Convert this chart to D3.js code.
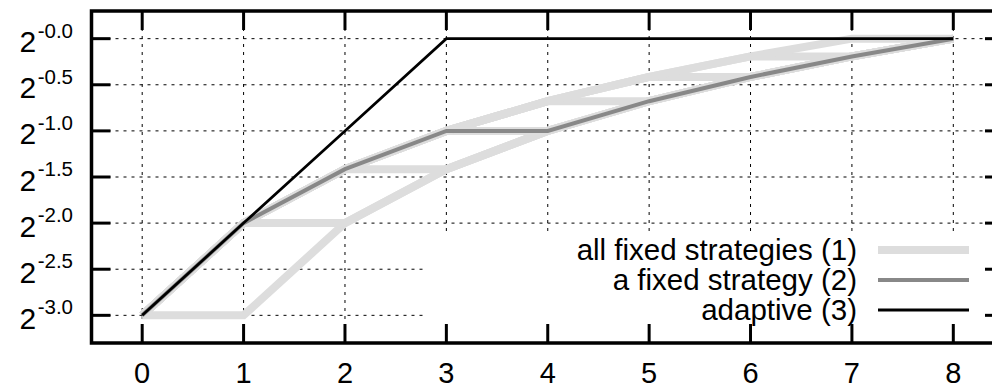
<!DOCTYPE html>
<html lang="en">
<head>
<meta charset="UTF-8">
<title>Fixed vs adaptive strategies</title>
<script src="https://d3js.org/d3.v7.min.js"></script>
<style>
    body { margin: 0; background: #fff; }
    text { font-family: "Liberation Sans", Arial, Helvetica, sans-serif; fill: #000; }
</style>
</head>
<body>
<svg id="chart"></svg>
<script>
const width = 992;
const height = 389;

// x positions
const steps = [0, 1, 2, 3, 4, 5, 6, 7, 8];

// every fixed strategy, one row each (they switch at a different step)
const allFixed = [
    [0.125, 0.125, 0.25, 0.375, 0.5, 0.625, 0.75, 0.875, 1],
    [0.125, 0.25, 0.25, 0.375, 0.5, 0.625, 0.75, 0.875, 1],
    [0.125, 0.25, 0.375, 0.375, 0.5, 0.625, 0.75, 0.875, 1],
    [0.125, 0.25, 0.375, 0.5, 0.5, 0.625, 0.75, 0.875, 1],
    [0.125, 0.25, 0.375, 0.5, 0.625, 0.625, 0.75, 0.875, 1],
    [0.125, 0.25, 0.375, 0.5, 0.625, 0.75, 0.75, 0.875, 1],
    [0.125, 0.25, 0.375, 0.5, 0.625, 0.75, 0.875, 0.875, 1],
    [0.125, 0.25, 0.375, 0.5, 0.625, 0.75, 0.875, 1, 1]
];
const oneFixed = [0.125, 0.25, 0.375, 0.5, 0.5, 0.625, 0.75, 0.875, 1];
const adaptive = [0.125, 0.25, 0.5, 1, 1, 1, 1, 1, 1];

// y ticks are powers of two
const yTickExps = [-3.0, -2.5, -2.0, -1.5, -1.0, -0.5, 0];
const yTickLabels = ["-3.0", "-2.5", "-2.0", "-1.5", "-1.0", "-0.5", "-0.0"];

const legendNames = ["all fixed strategies (1)", "a fixed strategy (2)", "adaptive (3)"];

const svg = d3.select("#chart")
    .attr("width", width)
    .attr("height", height);

const plotLeft = 91.5, plotRight = 1004, plotTop = 11, plotBottom = 343;

const x = d3.scaleLinear().domain([-0.5, 8.5]).range([plotLeft, plotRight]);
const y = d3.scaleLog().base(2).domain([Math.pow(2, -3.3), Math.pow(2, 0.3)]).range([plotBottom, plotTop]);

// grid
const grid = svg.append("g").attr("stroke", "#000").attr("stroke-width", 1).attr("stroke-dasharray", "3,5");
grid.selectAll("line.gx")
    .data(steps)
    .enter()
    .append("line")
    .attr("x1", d => x(d)).attr("x2", d => x(d))
    .attr("y1", plotBottom).attr("y2", plotTop);
grid.selectAll("line.gy")
    .data(yTickExps)
    .enter()
    .append("line")
    .attr("x1", plotLeft).attr("x2", plotRight)
    .attr("y1", d => y(Math.pow(2, d))).attr("y2", d => y(Math.pow(2, d)));

// data lines
const line = d3.line()
    .x((d, i) => x(steps[i]))
    .y(d => y(d));

svg.append("g")
    .selectAll("path")
    .data(allFixed)
    .enter()
    .append("path")
    .attr("d", line)
    .attr("fill", "none")
    .attr("stroke", "#dddddd")
    .attr("stroke-width", 8);

svg.append("path")
    .attr("d", line(oneFixed))
    .attr("fill", "none")
    .attr("stroke", "#888888")
    .attr("stroke-width", 4);

svg.append("path")
    .attr("d", line(adaptive))
    .attr("fill", "none")
    .attr("stroke", "#000")
    .attr("stroke-width", 2.7);

// opaque key box
svg.append("rect")
    .attr("x", 427).attr("y", 233)
    .attr("width", plotRight - 427).attr("height", plotBottom - 233)
    .attr("fill", "#fff");

const legendStyles = [
    { color: "#dddddd", w: 8 },
    { color: "#888888", w: 4 },
    { color: "#000", w: 3 }
];
const key = svg.append("g")
    .selectAll("g")
    .data(legendNames)
    .enter()
    .append("g")
    .attr("transform", (d, i) => `translate(0, ${250 + i * 30})`);
key.append("text")
    .attr("x", 857)
    .attr("y", 10)
    .attr("text-anchor", "end")
    .style("font-size", "29.5px")
    .text(d => d);
key.append("line")
    .attr("x1", 878).attr("x2", 969)
    .attr("y1", 0).attr("y2", 0)
    .attr("stroke", (d, i) => legendStyles[i].color)
    .attr("stroke-width", (d, i) => legendStyles[i].w);

// frame and ticks
const frame = svg.append("g");
frame.append("rect")
    .attr("x", plotLeft).attr("y", plotTop)
    .attr("width", plotRight - plotLeft).attr("height", plotBottom - plotTop)
    .attr("fill", "none")
    .attr("stroke", "#000")
    .attr("stroke-width", 3.5);
const tickLen = 19;
const tick = (x1, y1, x2, y2) => frame.append("line")
    .attr("x1", x1).attr("y1", y1).attr("x2", x2).attr("y2", y2)
    .attr("stroke", "#000").attr("stroke-width", 3);
steps.forEach(s => {
    tick(x(s), plotBottom, x(s), plotBottom - tickLen);
    tick(x(s), plotTop, x(s), plotTop + tickLen);
});
yTickExps.forEach(e => {
    const yy = y(Math.pow(2, e));
    tick(plotLeft, yy, plotLeft + tickLen, yy);
    tick(plotRight, yy, plotRight - tickLen, yy);
});

// tick labels
svg.append("g")
    .selectAll("text")
    .data(steps)
    .enter()
    .append("text")
    .attr("x", d => x(d))
    .attr("y", 382.5)
    .attr("text-anchor", "middle")
    .style("font-size", "29px")
    .text(d => d);

const yLab = svg.append("g")
    .selectAll("text")
    .data(yTickExps)
    .enter()
    .append("text")
    .attr("x", 73)
    .attr("y", d => y(Math.pow(2, d)) + 13.6)
    .attr("text-anchor", "end");
yLab.append("tspan")
    .style("font-size", "30px")
    .text("2");
yLab.append("tspan")
    .attr("dx", 1.5)
    .attr("dy", -14.6)
    .style("font-size", "20.5px")
    .text((d, i) => yTickLabels[i]);
</script>
</body>
</html>
